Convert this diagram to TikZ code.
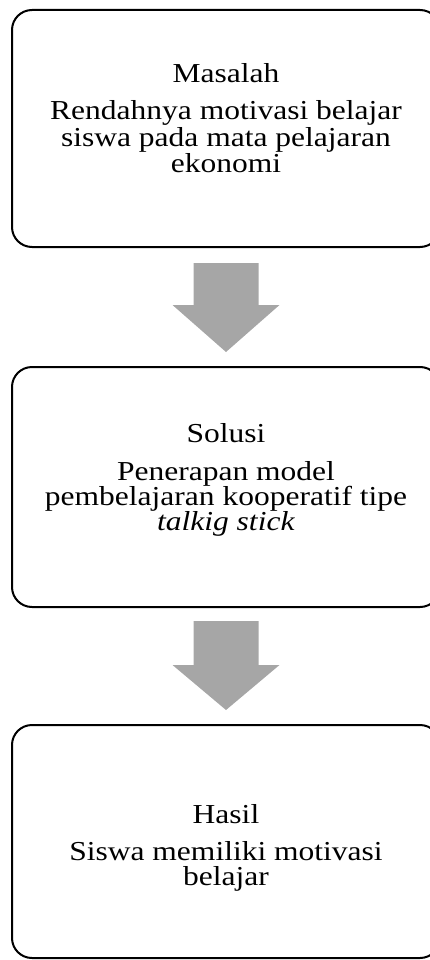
\documentclass[tikz,border=0pt]{standalone}
\usepackage{fontspec}
\setmainfont{Liberation Serif}[FakeStretch=1.15]
\definecolor{arrowgray}{RGB}{166,166,166}
\tikzset{
  stagebox/.style={draw=black, line width=2pt, rounded corners=20pt,
    minimum width=428pt, inner sep=0pt},
  linetext/.style={anchor=base, inner sep=0pt, font={\fontsize{27.4}{26}\selectfont}},
  blockarrow/.style={fill=arrowgray}
}
\begin{document}
\begin{tikzpicture}[x=1pt,y=-1pt]

\useasboundingbox (0,0) rectangle (430,960);

% frames
\node[stagebox, minimum height=237pt] (masalah) at (226,128.5) {};
\node[stagebox, minimum height=240pt] (solusi) at (226,487) {};
\node[stagebox, minimum height=233pt] (hasil) at (226,841.5) {};

% Masalah
\node[linetext] (masalahtitle) at (226,83) {Masalah};
\node[linetext] (masalah1) at (226,120) {Rendahnya motivasi belajar};
\node[linetext] (masalah2) at (226,147) {siswa pada mata pelajaran};
\node[linetext] (masalah3) at (226,172) {ekonomi};

% Solusi
\node[linetext] (solusititle) at (226,442) {Solusi};
\node[linetext] (solusi1) at (226,480) {Penerapan model};
\node[linetext] (solusi2) at (226,505) {pembelajaran kooperatif tipe};
\node[linetext] (solusi3) at (226,530) {\textit{talkig stick}};

% Hasil
\node[linetext] (hasiltitle) at (226,823) {Hasil};
\node[linetext] (hasil1) at (226,860) {Siswa memiliki motivasi};
\node[linetext] (hasil2) at (226,885) {belajar};

% block arrows between the boxes
\coordinate (top1) at (226,263);
\coordinate (top2) at (226,621);

\fill[blockarrow] (top1) ++(-32.5,0) -- ++(65,0) -- ++(0,42) -- ++(21,0)
  -- (226,352) -- (172.5,305) -- ++(21,0) -- cycle;

\fill[blockarrow] (top2) ++(-32.5,0) -- ++(65,0) -- ++(0,44) -- ++(21,0)
  -- (226,710) -- (172.5,665) -- ++(21,0) -- cycle;

\end{tikzpicture}
\end{document}
